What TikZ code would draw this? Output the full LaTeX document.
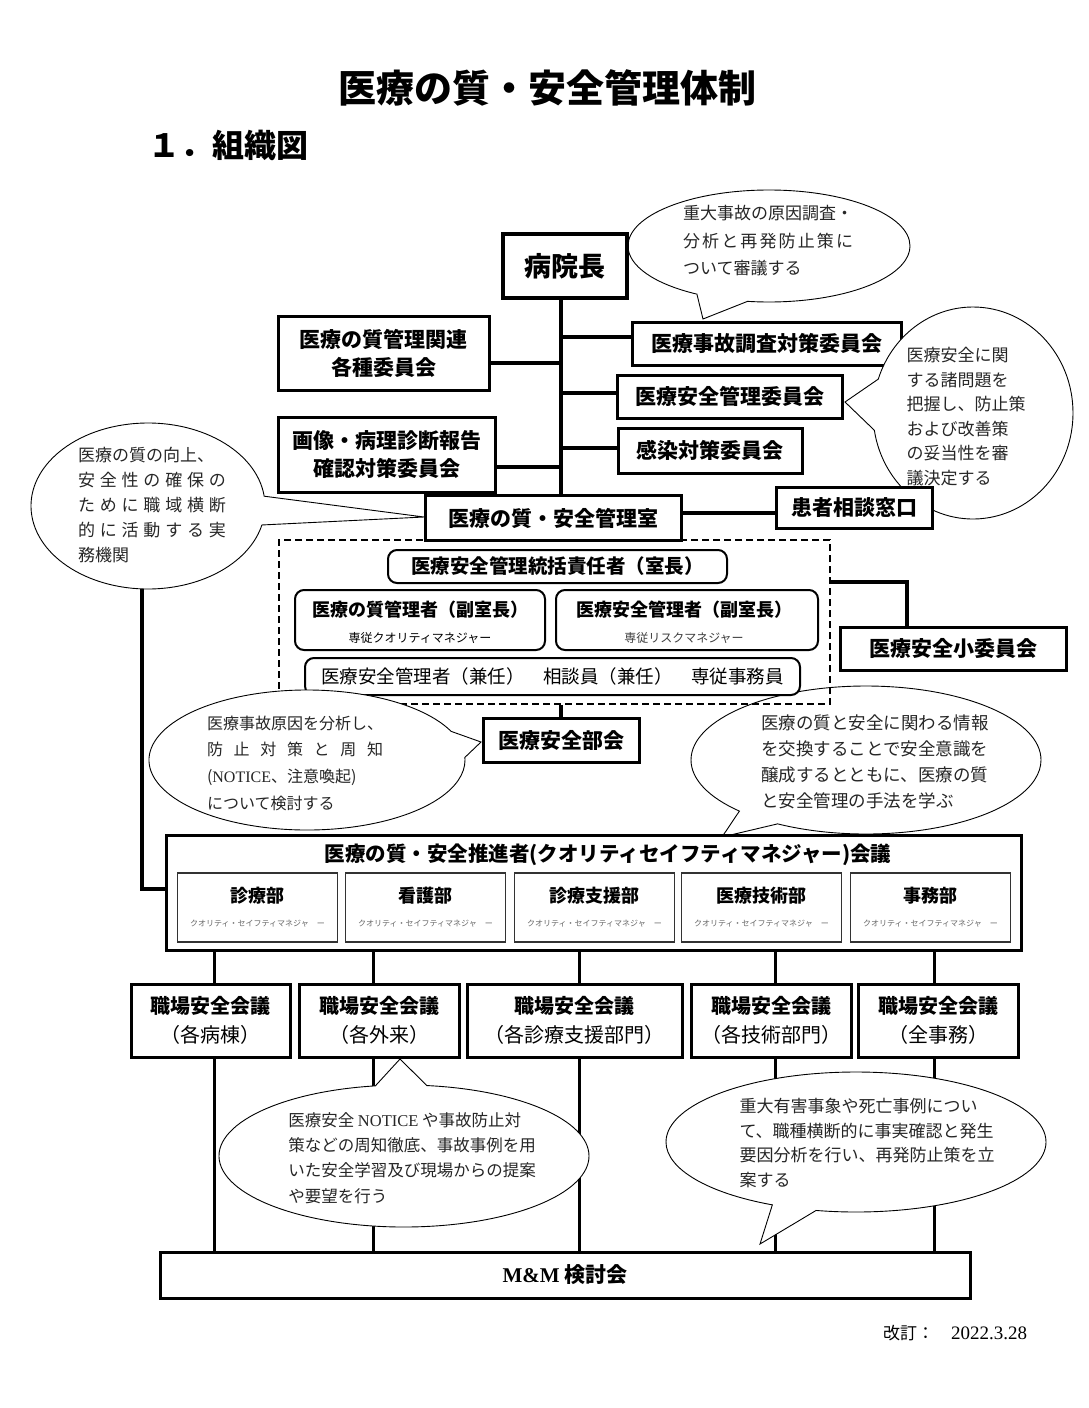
\documentclass[tikz,border=0pt]{standalone}
\usepackage{fontspec}
\setmainfont{Noto Sans CJK JP}
\newfontfamily\ser{Liberation Serif}
\usetikzlibrary{shapes.callouts}
\pgfdeclarelayer{back}
\pgfdeclarelayer{bg}
\pgfsetlayers{back,bg,main}
\newcommand\spr[2]{\makebox[#1][s]{#2}}
\begin{document}
\begin{tikzpicture}[x=1pt,y=-1pt,
  box/.style={draw,line width=3pt,fill=white,inner sep=0pt,align=center,font=\bfseries\fontsize{21}{28}\selectfont},
  rbox/.style={draw,line width=2pt,rounded corners=9pt,fill=white,inner sep=0pt,align=center},
  ibox/.style={draw=black!80,line width=1.3pt,fill=white,inner sep=0pt,minimum width=160,minimum height=69},
  wbox/.style={draw,line width=3pt,fill=white,inner sep=0pt,align=center,minimum height=73,font=\fontsize{20}{29}\selectfont},
  conn/.style={line width=4pt},
  vl/.style={line width=3pt},
  call/.style={ellipse callout,draw,line width=0.9pt,fill=white,inner sep=0pt},
  ctext/.style={inner sep=0pt,align=left,text=black!85},
  lbl/.style={inner sep=0pt,align=center},
]
\useasboundingbox (0,0) rectangle (1088,1408);
\begin{pgfonlayer}{back}
\fill[white] (0,0) rectangle (1088,1408);
\end{pgfonlayer}

% titles
\node[lbl,font=\bfseries\fontsize{38}{40}\selectfont] (title) at (547,88) {医療の質・安全管理体制};
\node[lbl,anchor=west,font=\bfseries\fontsize{32}{34}\selectfont] (subtitle) at (148,145) {１．組織図};

\coordinate (tr) at (561,0);
\coordinate (lft) at (142,0);

% top callout
\node[call,minimum width=282,minimum height=112,callout absolute pointer={(703,319)},callout pointer arc=22] (c1) at (769,246) {};
\node[ctext,font=\fontsize{17}{27.5}\selectfont] (t1) at (768,241) {重大事故の原因調査・\\\spr{170pt}{分\hfill 析\hfill と\hfill 再\hfill 発\hfill 防\hfill 止\hfill 策\hfill に}\\ついて審議する};

% upper boxes
\node[box,font=\bfseries\fontsize{27}{30}\selectfont,minimum width=124,minimum height=64,line width=3.5pt] (incho) at (565,266) {病院長};
\node[box,minimum width=211,minimum height=74] (kanren) at (383.5,353) {医療の質管理関連\\各種委員会};
\node[box,minimum width=269,minimum height=43] (jiko) at (766.5,343.5) {医療事故調査対策委員会};
\node[box,minimum width=225,minimum height=43] (anzen) at (729.5,396.5) {医療安全管理委員会};
\node[box,minimum width=184,minimum height=45] (kansen) at (710,450.5) {感染対策委員会};
\node[box,minimum width=217,minimum height=75] (gazo) at (386.5,454.5) {画像・病理診断報告\\確認対策委員会};

% right callout
\node[call,minimum width=200,minimum height=212,callout absolute pointer={(845,402)},callout pointer arc=28] (c2) at (973,413) {};
\node[ctext,font=\fontsize{17}{24.6}\selectfont] (t2) at (966,416.5) {医療安全に関\\する諸問題を\\把握し、防止策\\および改善策\\の妥当性を審\\議決定する};

\node[box,minimum width=256,minimum height=45] (shitsu) at (553,518) {医療の質・安全管理室};
\node[box,minimum width=156,minimum height=41] (madoguchi) at (854,507.5) {患者相談窓口};

% left callout
\node[call,minimum width=234,minimum height=166,callout absolute pointer={(424,517)},callout pointer arc=20] (c3) at (148,506) {};
\node[ctext,font=\fontsize{17}{25}\selectfont] (t3) at (152,505.5) {医療の質の向上、\\\spr{148pt}{安\hfill 全\hfill 性\hfill の\hfill 確\hfill 保\hfill の}\\\spr{148pt}{た\hfill め\hfill に\hfill 職\hfill 域\hfill 横\hfill 断}\\\spr{148pt}{的\hfill に\hfill 活\hfill 動\hfill す\hfill る\hfill 実}\\務機関};

% middle right callout (behind dashed box)
\node[call,minimum width=350,minimum height=148,callout absolute pointer={(722,837)},callout pointer arc=16] (c5) at (866,760) {};
\node[ctext,font=\fontsize{17.5}{26}\selectfont] (t5) at (875,762) {医療の質と安全に関わる情報\\を交換することで安全意識を\\醸成するとともに、医療の質\\と安全管理の手法を学ぶ};

% dashed office box
\node[draw,line width=2pt,dash pattern=on 7pt off 4pt,minimum width=551,minimum height=164,inner sep=0pt] (dashbox) at (554.5,622) {};
\node[rbox,minimum width=339,minimum height=33,font=\bfseries\fontsize{19.5}{21}\selectfont] (tokatsu) at (557.5,566.5) {医療安全管理統括責任者（室長）};
\node[rbox,minimum width=250,minimum height=60] (q1) at (420,620) {};
\node[lbl,font=\bfseries\fontsize{18}{20}\selectfont] (q1t) at (420,610) {医療の質管理者（副室長）};
\node[lbl,font=\fontsize{12}{14}\selectfont] (q1s) at (420,638) {専従クオリティマネジャー};
\node[rbox,minimum width=262,minimum height=60] (q2) at (687,620) {};
\node[lbl,font=\bfseries\fontsize{18}{20}\selectfont] (q2t) at (684,610) {医療安全管理者（副室長）};
\node[lbl,font=\fontsize{12}{14}\selectfont,text=black!75] (q2s) at (684,638) {専従リスクマネジャー};
\node[rbox,minimum width=495,minimum height=37,font=\fontsize{18.5}{20}\selectfont] (kennin) at (552.5,676.5) {医療安全管理者（兼任）　相談員（兼任）　専従事務員};

\node[box,minimum width=226,minimum height=43] (shoiin) at (953,648.5) {医療安全小委員会};
\node[box,minimum width=156,minimum height=44] (bukai) at (561,740) {医療安全部会};

% middle left callout
\node[call,minimum width=316,minimum height=140,callout absolute pointer={(481,742)},callout pointer arc=22] (c4) at (307,760) {};
\node[ctext,font=\fontsize{16}{26.7}\selectfont] (t4) at (295,763) {医療事故原因を分析し、\\\spr{176pt}{防\hfill 止\hfill 対\hfill 策\hfill と\hfill 周\hfill 知}\\({\ser NOTICE}、注意喚起)\\について検討する};

% promoters meeting
\node[draw,line width=3pt,fill=white,minimum width=855,minimum height=115,inner sep=0pt] (big) at (593.5,892.5) {};
\node[lbl,font=\bfseries\fontsize{20.5}{22}\selectfont] (bigT) at (608,855) {医療の質・安全推進者(クオリティセイフティマネジャー)会議};
\foreach \n/\cx/\lab in {d1/257.5/診療部,d2/425.5/看護部,d3/594.5/診療支援部,d4/761.5/医療技術部,d5/930.5/事務部} {
  \node[ibox] (\n) at (\cx,907.5) {};
  \node[lbl,font=\bfseries\fontsize{18}{20}\selectfont] (\n t) at (\cx,896) {\lab};
  \node[lbl,font=\fontsize{8}{10}\selectfont,text=black!60] (\n s) at (\cx,924) {クオリティ・セイフティマネジャ　ー};
}

% workplace meetings
\node[wbox,minimum width=159] (w1) at (210.5,1020.5) {{\bfseries 職場安全会議}\\（各病棟）};
\node[wbox,minimum width=160] (w2) at (379,1020.5) {{\bfseries 職場安全会議}\\（各外来）};
\node[wbox,minimum width=215] (w3) at (574.5,1020.5) {{\bfseries 職場安全会議}\\（各診療支援部門）};
\node[wbox,minimum width=160] (w4) at (771,1020.5) {{\bfseries 職場安全会議}\\（各技術部門）};
\node[wbox,minimum width=160] (w5) at (938,1020.5) {{\bfseries 職場安全会議}\\（全事務）};

\node[box,minimum width=810,minimum height=46,font=\bfseries\fontsize{21}{23}\selectfont] (mm) at (565,1275) {{\ser\bfseries M\&M} 検討会};

% bottom callouts
\node[call,minimum width=370,minimum height=142,callout absolute pointer={(400,1059)},callout pointer arc=16] (c6) at (404,1156) {};
\node[ctext,font=\fontsize{16.5}{25.3}\selectfont] (t6) at (412,1158) {医療安全 {\ser NOTICE} や事故防止対\\策などの周知徹底、事故事例を用\\いた安全学習及び現場からの提案\\や要望を行う};
\node[call,minimum width=380,minimum height=140,callout absolute pointer={(760,1244)},callout pointer arc=14] (c7) at (856,1142) {};
\node[ctext,font=\fontsize{17}{24.7}\selectfont] (t7) at (867,1143) {重大有害事象や死亡事例につい\\て、職種横断的に事実確認と発生\\要因分析を行い、再発防止策を立\\案する};

% revision date
\node[lbl,font=\fontsize{17}{19}\selectfont] (date) at (955,1333) {改訂：　{\ser\fontsize{19}{21}\selectfont 2022.3.28}};

% connectors
\begin{pgfonlayer}{bg}
\draw[conn] (incho.south -| tr) -- (shitsu.north -| tr);
\draw[conn] ([yshift=-10pt]kanren.east) -- ([yshift=-10pt]kanren.east -| tr);
\draw[conn] ([yshift=6.5pt]jiko.west) -- ([yshift=6.5pt]jiko.west -| tr);
\draw[conn] ([yshift=3.5pt]anzen.west) -- ([yshift=3.5pt]anzen.west -| tr);
\draw[conn] ([yshift=2.5pt]kansen.west) -- ([yshift=2.5pt]kansen.west -| tr);
\draw[conn] ([yshift=-12.5pt]gazo.east) -- ([yshift=-12.5pt]gazo.east -| tr);
\draw[conn] ([yshift=5pt]shitsu.east) -- ([yshift=5pt]shitsu.east -| madoguchi.west);
\draw[conn] ([yshift=40pt]dashbox.east) -| ([xshift=-46pt]shoiin.north);
\draw[conn] (dashbox.south -| bukai.north) -- (bukai.north);
\draw[conn] (c3.south -| lft) |- ([yshift=3.5pt]big.west);
\foreach \n/\dx in {w1/3.5,w2/-6,w3/4.5,w4/4,w5/-4} {
  \draw[vl] ([xshift=\dx pt]\n.north) -- ([xshift=\dx pt]\n.north |- big.south);
  \draw[vl] ([xshift=\dx pt]\n.south) -- ([xshift=\dx pt]\n.south |- mm.north);
}
\end{pgfonlayer}
\end{tikzpicture}
\end{document}
